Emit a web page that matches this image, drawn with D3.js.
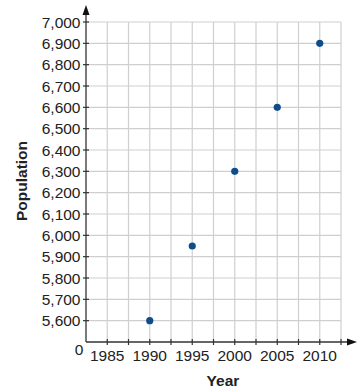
<!DOCTYPE html>
<html>
<head>
<meta charset="utf-8">
<script src="https://cdn.jsdelivr.net/npm/d3@7"></script>
<style>
  body { margin: 0; background: #fff; }
  text { font-family: "Liberation Sans", Arial, sans-serif; fill: #222; }
</style>
</head>
<body>
<svg id="chart" width="357" height="392"></svg>
<script>
// data
const years = [1990, 1995, 2000, 2005, 2010];
const population = [5600, 5950, 6300, 6600, 6900];
const yTicks = d3.range(5600, 7001, 100);
const yGrid = d3.range(5600, 7001, 100);
const xTicks = d3.range(1985, 2013, 2.5);
const xLabels = [1985, 1990, 1995, 2000, 2005, 2010];

const svg = d3.select('#chart');

const x = d3.scaleLinear().domain([1982.5, 2012.5]).range([86, 341]);
const y = d3.scaleLinear().domain([5500, 7000]).range([342, 22]);

// grid
const grid = svg.append('g').attr('stroke', '#cfcfcf').attr('stroke-width', 1.2);
grid.selectAll('line.v').data(xTicks).join('line')
  .attr('x1', d => x(d)).attr('x2', d => x(d))
  .attr('y1', y(7000)).attr('y2', y(5500));
grid.selectAll('line.h').data(yGrid).join('line')
  .attr('x1', x(1982.5)).attr('x2', x(2012.5))
  .attr('y1', d => y(d)).attr('y2', d => y(d));

// axes lines with arrows
const axisColor = '#333';
svg.append('line')
  .attr('x1', x(1982.5)).attr('x2', 350)
  .attr('y1', y(5500)).attr('y2', y(5500))
  .attr('stroke', axisColor).attr('stroke-width', 1.3);
svg.append('path')
  .attr('d', `M357,${y(5500)} L347,${y(5500) - 3.5} L347,${y(5500) + 3.5} Z`)
  .attr('fill', '#111');
svg.append('line')
  .attr('x1', x(1982.5)).attr('x2', x(1982.5))
  .attr('y1', y(5500)).attr('y2', 12)
  .attr('stroke', axisColor).attr('stroke-width', 1.3);
svg.append('path')
  .attr('d', `M${x(1982.5)},5 L${x(1982.5) - 3.5},15 L${x(1982.5) + 3.5},15 Z`)
  .attr('fill', '#111');

// tick marks
svg.append('g').selectAll('line').data(xTicks).join('line')
  .attr('x1', d => x(d)).attr('x2', d => x(d))
  .attr('y1', y(5500) - 3).attr('y2', y(5500) + 3)
  .attr('stroke', axisColor).attr('stroke-width', 1.2);
svg.append('g').selectAll('line').data(yTicks).join('line')
  .attr('x1', x(1982.5) - 3).attr('x2', x(1982.5) + 3)
  .attr('y1', d => y(d)).attr('y2', d => y(d))
  .attr('stroke', axisColor).attr('stroke-width', 1.2);

// tick labels
const fmt = d3.format(',');
svg.append('g').selectAll('text').data(yTicks).join('text')
  .attr('x', 80.5).attr('y', d => y(d) + 5.5)
  .attr('text-anchor', 'end')
  .attr('font-size', 15.5)
  .text(d => fmt(d));
svg.append('g').selectAll('text').data(xLabels).join('text')
  .attr('x', d => x(d)).attr('y', 361)
  .attr('text-anchor', 'middle')
  .attr('font-size', 15.5)
  .text(d => d);
svg.append('text')
  .attr('x', 79).attr('y', 355)
  .attr('text-anchor', 'middle')
  .attr('font-size', 15.5)
  .text('0');

// axis titles
svg.append('text')
  .attr('x', 223).attr('y', 386)
  .attr('text-anchor', 'middle')
  .attr('font-size', 15.5).attr('font-weight', 'bold')
  .text('Year');
svg.append('text')
  .attr('transform', 'translate(27,181) rotate(-90)')
  .attr('text-anchor', 'middle')
  .attr('font-size', 15.5).attr('font-weight', 'bold')
  .text('Population');

// points
svg.append('g').selectAll('circle').data(years).join('circle')
  .attr('cx', d => x(d))
  .attr('cy', (d, i) => y(population[i]))
  .attr('r', 3.6)
  .attr('fill', '#0f4c8a');
</script>
</body>
</html>
